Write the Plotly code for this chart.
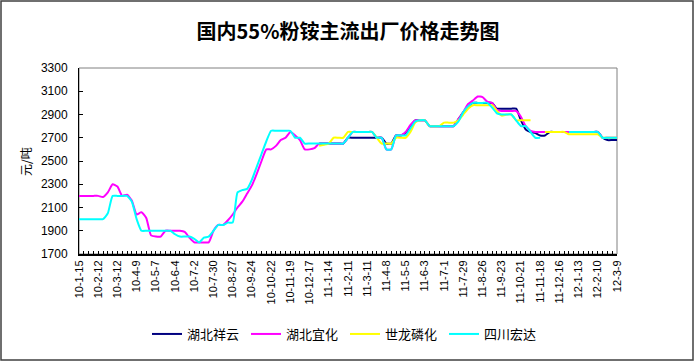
import plotly.graph_objects as go

# ---- data (weekly observations, labels every 4th week) ----
tick_labels = ["10-1-15", "10-2-12", "10-3-12", "10-4-9", "10-5-7", "10-6-4", "10-7-2",
               "10-7-30", "10-8-27", "10-9-24", "10-10-22", "10-11-19", "10-12-17",
               "11-1-14", "11-2-11", "11-3-11", "11-4-8", "11-5-5", "11-6-3", "11-7-1",
               "11-7-29", "11-8-26", "11-9-23", "11-10-21", "11-11-18", "11-12-16",
               "12-1-13", "12-2-10", "12-3-9"]
weeks_per_label = 4

N = None
hubei_xiangyun = [N] * 50 + [
    2650, 2650, 2650, 2650, 2650, 2650, 2700, 2700, 2700, 2700,
    2700, 2700, 2700, 2700, 2650, 2650, 2720, 2720, 2740, 2800,
    2850, 2850, 2850, 2800, 2800, 2800, 2800, 2800, 2800, 2860,
    2920, 2970, 3000, 3000, 3000, 3000, 3000, 2950, 2950, 2950,
    2950, 2950, 2850, 2770, 2750, 2740, 2720, 2720, 2750, 2750,
    2750, 2750, 2750, 2750, 2750, 2750, 2750, 2750, 2750, 2700,
    2680, 2680, 2680]

hubei_yihua = [
    2200, 2200, 2200, 2200, 2200, 2190, 2230, 2300, 2280, 2200,
    2210, 2160, 2040, 2060, 2010, 1860, 1850, 1850, 1900, 1900,
    1900, 1900, 1890, 1840, 1800, 1800, 1800, 1800, 1900, 1950,
    1950, 1990, 2040, 2100, 2150, 2220, 2290, 2390, 2500, 2600,
    2600, 2630, 2680, 2700, 2750, 2720, 2680, 2600, 2600, 2610,
    2650, 2650, 2650, 2650, 2650, 2650, 2700, 2750, 2750, 2750,
    2750, 2750, 2700, 2700, 2600, 2600, 2720, 2720, 2750, 2810,
    2850, 2850, 2850, 2800, 2800, 2800, 2800, 2800, 2800, 2860,
    2920, 2990, 3020, 3055, 3050, 3010, 3000, 2940, 2930, 2930,
    2930, 2930, 2880, 2800, 2760, 2750, 2750, 2750, 2750, 2750,
    2750, 2750, 2750, 2750, 2750, 2750, 2750, 2750, 2750, 2700,
    2700, 2700, 2700]

shilong = [N] * 50 + [
    2630, 2640, 2650, 2700, 2700, 2700, 2750, 2750, 2750, 2750,
    2750, 2750, 2700, 2650, 2650, 2650, 2700, 2700, 2700, 2750,
    2830, 2850, 2850, 2800, 2800, 2800, 2830, 2830, 2830, 2850,
    2900, 2950, 2980, 2980, 2980, 2980, 2980, 2930, 2890, 2900,
    2900, 2850, 2850, 2850, 2850, N, N, 2750, 2750, 2750,
    2750, 2750, 2730, 2730, 2730, 2730, 2730, 2730, 2730, 2700,
    2700, 2700, 2700]

sichuan_hongda = [
    2000, 2000, 2000, 2000, 2000, 2000, 2050, 2200, 2200, 2200,
    2200, 2150, 2000, 1900, 1900, 1900, 1900, 1900, 1900, 1900,
    1870, 1850, 1850, 1850, 1830, 1800, 1840, 1850, 1900, 1950,
    1950, 1970, 1970, 2230, 2250, 2260, 2340, 2450, 2560, 2670,
    2760, 2760, 2760, 2760, 2760, 2700, 2700, 2650, 2650, 2650,
    2650, 2650, 2650, 2650, 2650, 2650, 2700, 2750, 2750, 2750,
    2750, 2750, 2700, 2700, 2600, 2600, 2720, 2720, 2720, 2780,
    2840, 2850, 2850, 2800, 2800, 2800, 2800, 2800, 2800, 2840,
    2920, 2970, 3000, 3000, 3000, 3000, 2960, 2910, 2900, 2900,
    2900, 2850, 2800, 2800, 2750, 2700, 2700, N, N, N,
    N, N, 2750, 2750, 2750, 2750, 2750, 2750, 2750, 2700,
    2700, 2700, 2700]

series_names = ["湖北祥云", "湖北宜化", "世龙磷化", "四川宏达"]
series_values = [hubei_xiangyun, hubei_yihua, shilong, sichuan_hongda]
series_colors = ["#000080", "#FF00FF", "#FFFF00", "#00FFFF"]

# ---- layout geometry ----
W, H = 695, 362
L, R, T, B = 79, 78, 68, 108
pw, ph = W - L - R, H - T - B

CJK = "Noto Sans CJK SC"
LAT = "Liberation Sans, Arial"

fig = go.Figure()
for name, vals, col in zip(series_names, series_values, series_colors):
    fig.add_trace(go.Scatter(
        x=list(range(len(vals))), y=vals, name=name, mode="lines",
        line=dict(color=col, width=2, shape="spline", smoothing=0.5),
        connectgaps=False, hoverinfo="skip"))

n_pts = len(hubei_yihua)
fig.update_layout(
    width=W, height=H,
    margin=dict(l=L, r=R, t=T, b=B),
    paper_bgcolor="white", plot_bgcolor="white",
    title=dict(text="<b>国内55%粉铵主流出厂价格走势图</b>", x=0.5, xref="paper",
               y=1 - 32 / H, yanchor="middle",
               font=dict(family=CJK, size=20, color="black")),
    xaxis=dict(range=[0, n_pts - 1],
               tickmode="array",
               tickvals=[i * weeks_per_label for i in range(len(tick_labels))],
               ticktext=tick_labels, tickangle=-90,
               tickfont=dict(family=LAT, size=11, color="black"),
               ticks="inside", ticklen=3, tickcolor="black",
               minor=dict(dtick=1, tick0=0, ticks="inside", ticklen=3, tickcolor="black"),
               showline=True, linecolor="black", linewidth=2,
               showgrid=False, zeroline=False),
    yaxis=dict(range=[1700, 3300], tick0=1700, dtick=200,
               tickfont=dict(family=LAT, size=12, color="black"),
               ticks="inside", ticklen=4, tickcolor="black",
               ticklabelstandoff=8,
               showline=True, linecolor="black", linewidth=1,
               showgrid=False, zeroline=False),
    legend=dict(orientation="h", x=(147 - L) / pw, xanchor="left",
                y=(T + ph - 334) / ph, yanchor="middle",
                font=dict(family=CJK, size=13, color="black"),
                entrywidth=54, entrywidthmode="pixels",
                bgcolor="rgba(0,0,0,0)", borderwidth=0),
    shapes=[
        dict(type="rect", xref="paper", yref="paper", x0=0, x1=1, y0=0, y1=1,
             line=dict(color="#808080", width=1), layer="below"),
        dict(type="rect", xref="paper", yref="paper",
             x0=(1 - L) / pw, x1=(W - 2 - L) / pw,
             y0=-(H - 2 - T - ph) / ph, y1=(T + ph - 1) / ph,
             line=dict(color="#404040", width=1.5), layer="below"),
    ],
    annotations=[
        dict(text="元/吨", xref="paper", yref="paper", x=(25 - L) / pw, y=(T + ph - 162) / ph,
             textangle=-90, showarrow=False, xanchor="center", yanchor="middle",
             font=dict(family=CJK, size=12, color="black")),
    ],
)

fig.write_html("out.html")
